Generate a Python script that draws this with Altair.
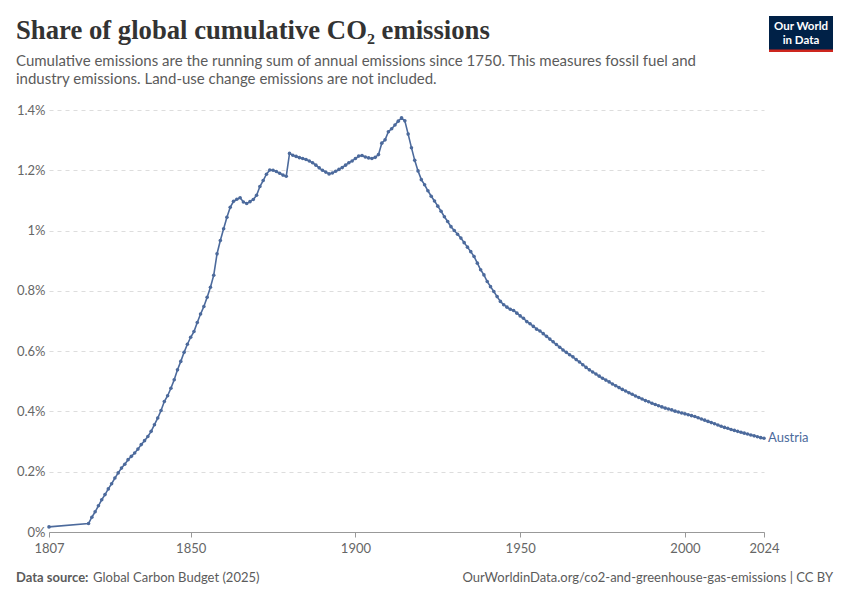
import altair as alt
import pandas as pd

# ---- data ----
first_year = [1807]
first_share = [0.017]

years_main = list(range(1819, 2025))
share_1819_1829 = [0.028, 0.049, 0.067, 0.087, 0.107, 0.124, 0.143, 0.160, 0.179, 0.196, 0.212]
share_1830s = [0.225, 0.240, 0.251, 0.262, 0.275, 0.290, 0.303, 0.317, 0.334, 0.356]
share_1840s = [0.378, 0.403, 0.433, 0.452, 0.477, 0.505, 0.538, 0.566, 0.596, 0.623]
share_1850s = [0.646, 0.665, 0.695, 0.723, 0.748, 0.779, 0.812, 0.852, 0.923, 0.967]
share_1860s = [1.006, 1.044, 1.077, 1.097, 1.104, 1.109, 1.095, 1.090, 1.096, 1.103]
share_1870s = [1.117, 1.146, 1.166, 1.187, 1.201, 1.200, 1.196, 1.190, 1.184, 1.180]
share_1880s = [1.256, 1.250, 1.246, 1.242, 1.239, 1.236, 1.231, 1.225, 1.217, 1.208]
share_1890s = [1.200, 1.194, 1.188, 1.191, 1.197, 1.203, 1.209, 1.217, 1.225, 1.231]
share_1900s = [1.239, 1.247, 1.249, 1.244, 1.241, 1.239, 1.243, 1.252, 1.290, 1.301]
share_1910s = [1.328, 1.338, 1.350, 1.363, 1.374, 1.364, 1.320, 1.275, 1.233, 1.198]
share_1920s = [1.169, 1.152, 1.132, 1.114, 1.098, 1.081, 1.064, 1.046, 1.030, 1.013]
share_1930s = [1.000, 0.988, 0.975, 0.960, 0.945, 0.930, 0.914, 0.892, 0.870, 0.853]
share_1940s = [0.831, 0.814, 0.798, 0.781, 0.765, 0.754, 0.746, 0.739, 0.735, 0.726]
share_1950s = [0.717, 0.709, 0.698, 0.691, 0.682, 0.673, 0.667, 0.658, 0.649, 0.640]
share_1960s = [0.631, 0.622, 0.613, 0.604, 0.596, 0.588, 0.581, 0.572, 0.564, 0.555]
share_1970s = [0.546, 0.538, 0.531, 0.524, 0.517, 0.510, 0.504, 0.498, 0.491, 0.485]
share_1980s = [0.479, 0.473, 0.468, 0.462, 0.457, 0.451, 0.446, 0.441, 0.436, 0.432]
share_1990s = [0.427, 0.423, 0.419, 0.415, 0.411, 0.408, 0.405, 0.401, 0.398, 0.395]
share_2000s = [0.392, 0.389, 0.386, 0.383, 0.379, 0.375, 0.371, 0.367, 0.363, 0.359]
share_2010s = [0.355, 0.351, 0.347, 0.344, 0.340, 0.337, 0.334, 0.331, 0.328, 0.325]
share_2020s = [0.322, 0.319, 0.316, 0.313, 0.311]

x_tick_years = [1807, 1850, 1900, 1950, 2000, 2024]
y_ticks = [0, 0.2, 0.4, 0.6, 0.8, 1.0, 1.2, 1.4]
country = "Austria"

title_text = "Share of global cumulative CO₂ emissions"
subtitle_lines = [
    "Cumulative emissions are the running sum of annual emissions since 1750. This measures fossil fuel and",
    "industry emissions. Land-use change emissions are not included.",
]
source_bold = "Data source:"
source_text = "Global Carbon Budget (2025)"
url_text = "OurWorldinData.org/co2-and-greenhouse-gas-emissions | CC BY"
logo_lines = ["Our World", "in Data"]

# ---- build table ----
shares_main = (share_1819_1829 + share_1830s + share_1840s + share_1850s + share_1860s +
               share_1870s + share_1880s + share_1890s + share_1900s + share_1910s +
               share_1920s + share_1930s + share_1940s + share_1950s + share_1960s +
               share_1970s + share_1980s + share_1990s + share_2000s + share_2010s + share_2020s)
assert len(shares_main) == len(years_main)
df = pd.DataFrame({"year": first_year + years_main, "share": first_share + shares_main})
df["country"] = country
last = df.tail(1)

BLUE = "#4c6a9c"
W, H = 715, 422

x_enc = alt.X("year:Q",
              scale=alt.Scale(domain=[1807, 2024], nice=False, zero=False),
              axis=alt.Axis(values=x_tick_years, format="d", grid=False, title=None,
                            tickSize=5, tickColor="#999", domainColor="#999",
                            labelPadding=5, labelFlush=False, labelFontSize=13,
                            labelColor="#666", labelFont="Lato"))
y_enc = alt.Y("share:Q",
              scale=alt.Scale(domain=[0, 1.4], nice=False),
              axis=alt.Axis(values=y_ticks, title=None, domain=False, ticks=False,
                            labelExpr="format(datum.value, '.2~g') + '%'",
                            gridDash=[4, 4], gridColor="#dddddd", labelPadding=4,
                            labelFontSize=13, labelColor="#666", labelFont="Lato"))

base = alt.Chart(df)
line = base.mark_line(color=BLUE, strokeWidth=1.6).encode(x=x_enc, y=y_enc)
pts = base.mark_circle(color=BLUE, size=13, opacity=1).encode(x="year:Q", y="share:Q")
label = alt.Chart(last).mark_text(align="left", baseline="middle", dx=4, fontSize=13,
                                  font="Lato", color=BLUE).encode(
    x="year:Q", y="share:Q", text="country:N")


def txt(s, x, y, size, color, font="Lato", weight="normal", align="left", **kw):
    return alt.Chart(pd.DataFrame({"t": [s]})).mark_text(
        align=align, baseline="alphabetic", fontSize=size, font=font,
        fontWeight=weight, color=color, **kw).encode(
        text="t:N", x=alt.value(x), y=alt.value(y))


title = txt(title_text, -33, -71, 26.7, "#333333", font="Liberation Serif", weight="bold")
sub1 = txt(subtitle_lines[0], -33, -44, 15, "#5b5b5b")
sub2 = txt(subtitle_lines[1], -33, -26.5, 15, "#5b5b5b")
src1 = txt(source_bold, -33, 472, 13, "#5b5b5b", weight="bold")
src2 = txt(source_text, 44, 472, 13, "#5b5b5b")
url = txt(url_text, 784, 472, 13, "#5b5b5b", align="right")

logo_box = alt.Chart(pd.DataFrame({"a": [0]})).mark_rect(color="#002147").encode(
    x=alt.value(720), x2=alt.value(784), y=alt.value(-94), y2=alt.value(-60))
logo_red = alt.Chart(pd.DataFrame({"a": [0]})).mark_rect(color="#ce261e").encode(
    x=alt.value(720), x2=alt.value(784), y=alt.value(-60.5), y2=alt.value(-58))
logo1 = txt(logo_lines[0], 752, -80.5, 11.5, "white", weight="bold", align="center")
logo2 = txt(logo_lines[1], 752, -66.5, 11.5, "white", weight="bold", align="center")

chart = alt.layer(line, pts, label, title, sub1, sub2, src1, src2, url,
                  logo_box, logo_red, logo1, logo2).properties(
    width=W, height=H,
    autosize=alt.AutoSizeParams(type="none"),
    padding={"left": 41, "top": 102, "right": 70, "bottom": 60},
).configure(background="white").configure_view(stroke=None)

chart.save("out.html", embed_options={"renderer": "svg", "actions": False})
